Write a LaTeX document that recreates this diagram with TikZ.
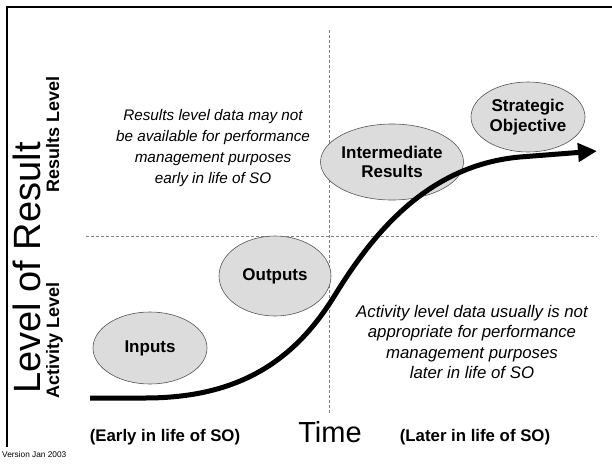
\documentclass[tikz,border=0pt]{standalone}
\usepackage{fontspec}
\setmainfont{Liberation Sans}
\usetikzlibrary{shapes.geometric,arrows.meta}
\definecolor{ellfill}{HTML}{DCDCDC}
\definecolor{ellline}{HTML}{555555}
\definecolor{dashgray}{HTML}{7F7F7F}
\begin{document}
\begin{tikzpicture}[x=1pt,y=-1pt,
  stage/.style={ellipse, draw=ellline, line width=0.6pt, fill=ellfill, inner sep=0pt, align=center,
    font=\fontsize{17}{19.5}\selectfont\bfseries},
  note/.style={align=center, font=\fontsize{15.3}{21.2}\selectfont\itshape},
  note2/.style={align=center, font=\fontsize{16.8}{20.4}\selectfont\itshape},
  divider/.style={draw=dashgray, line width=0.9pt, dash pattern=on 3pt off 2pt},
  sidelab/.style={rotate=90, anchor=base, inner sep=0pt, font=\fontsize{18}{20}\selectfont\bfseries},
  bottomlab/.style={inner sep=0pt, font=\fontsize{16.8}{20}\selectfont\bfseries},
  growth/.style={line width=5pt, -{Triangle[length=19pt,width=18pt]}},
]
\useasboundingbox (0,0) rectangle (612,463);
\fill[white] (0,0) rectangle (612,463);
% frame (top and left)
\draw[line width=2pt] (7,447) -- (7,7) -- (612,7);

% quadrant dividers
\coordinate (vtop) at (329,30);
\coordinate (vbot) at (329,414);
\coordinate (hleft) at (86,236);
\coordinate (hright) at (597,236);
\draw[divider] (vtop) -- (vbot);
\draw[divider] (hleft) -- (hright);

% stages
\node[stage, minimum width=114pt, minimum height=72pt] (inputs) at (150,348) {Inputs};
\node[stage, minimum width=112pt, minimum height=80pt] (outputs) at (275,276) {Outputs};
\node[stage, minimum width=120pt, minimum height=76pt] (ir) at (392,162) {Intermediate\\Results};
\node[stage, minimum width=114pt, minimum height=70pt] (so) at (528,117) {Strategic\\Objective};

% growth curve
\coordinate (cstart) at (90,398);
\coordinate (cflat) at (145,398);
\coordinate (cmid) at (335,295);
\coordinate (cup) at (520,157);
\coordinate (ctip) at (597,151);
\draw[growth] (cstart) -- (cflat) .. controls (240,398) and (295,360) .. (cmid)
  .. controls (375,230) and (430,165) .. (cup) -- (ctip);

% notes
\node[note] (rnote) at (213,148) {Results level data may not\\be available for performance\\management purposes\\early in life of SO};
\node[note2] (anote) at (472,342) {Activity level data usually is not\\appropriate for performance\\management purposes\\later in life of SO};

% axis labels
\node[rotate=90, anchor=base, inner sep=0pt, font=\fontsize{38}{40}\selectfont] (lor) at (40,268) {Level of Result};
\node[sidelab] (rlev) at (59,134) {Results Level};
\node[sidelab] (alev) at (59,340) {Activity Level};

\node[inner sep=0pt, font=\fontsize{29}{32}\selectfont] (time) at (330,432) {Time};
\node[bottomlab] (early) at (165,437) {(Early in life of SO)};
\node[bottomlab] (later) at (475,437) {(Later in life of SO)};

\node[anchor=west, inner sep=0pt, font=\fontsize{8.3}{9}\selectfont] (ver) at (2,455) {Version Jan 2003};
\end{tikzpicture}
\end{document}
